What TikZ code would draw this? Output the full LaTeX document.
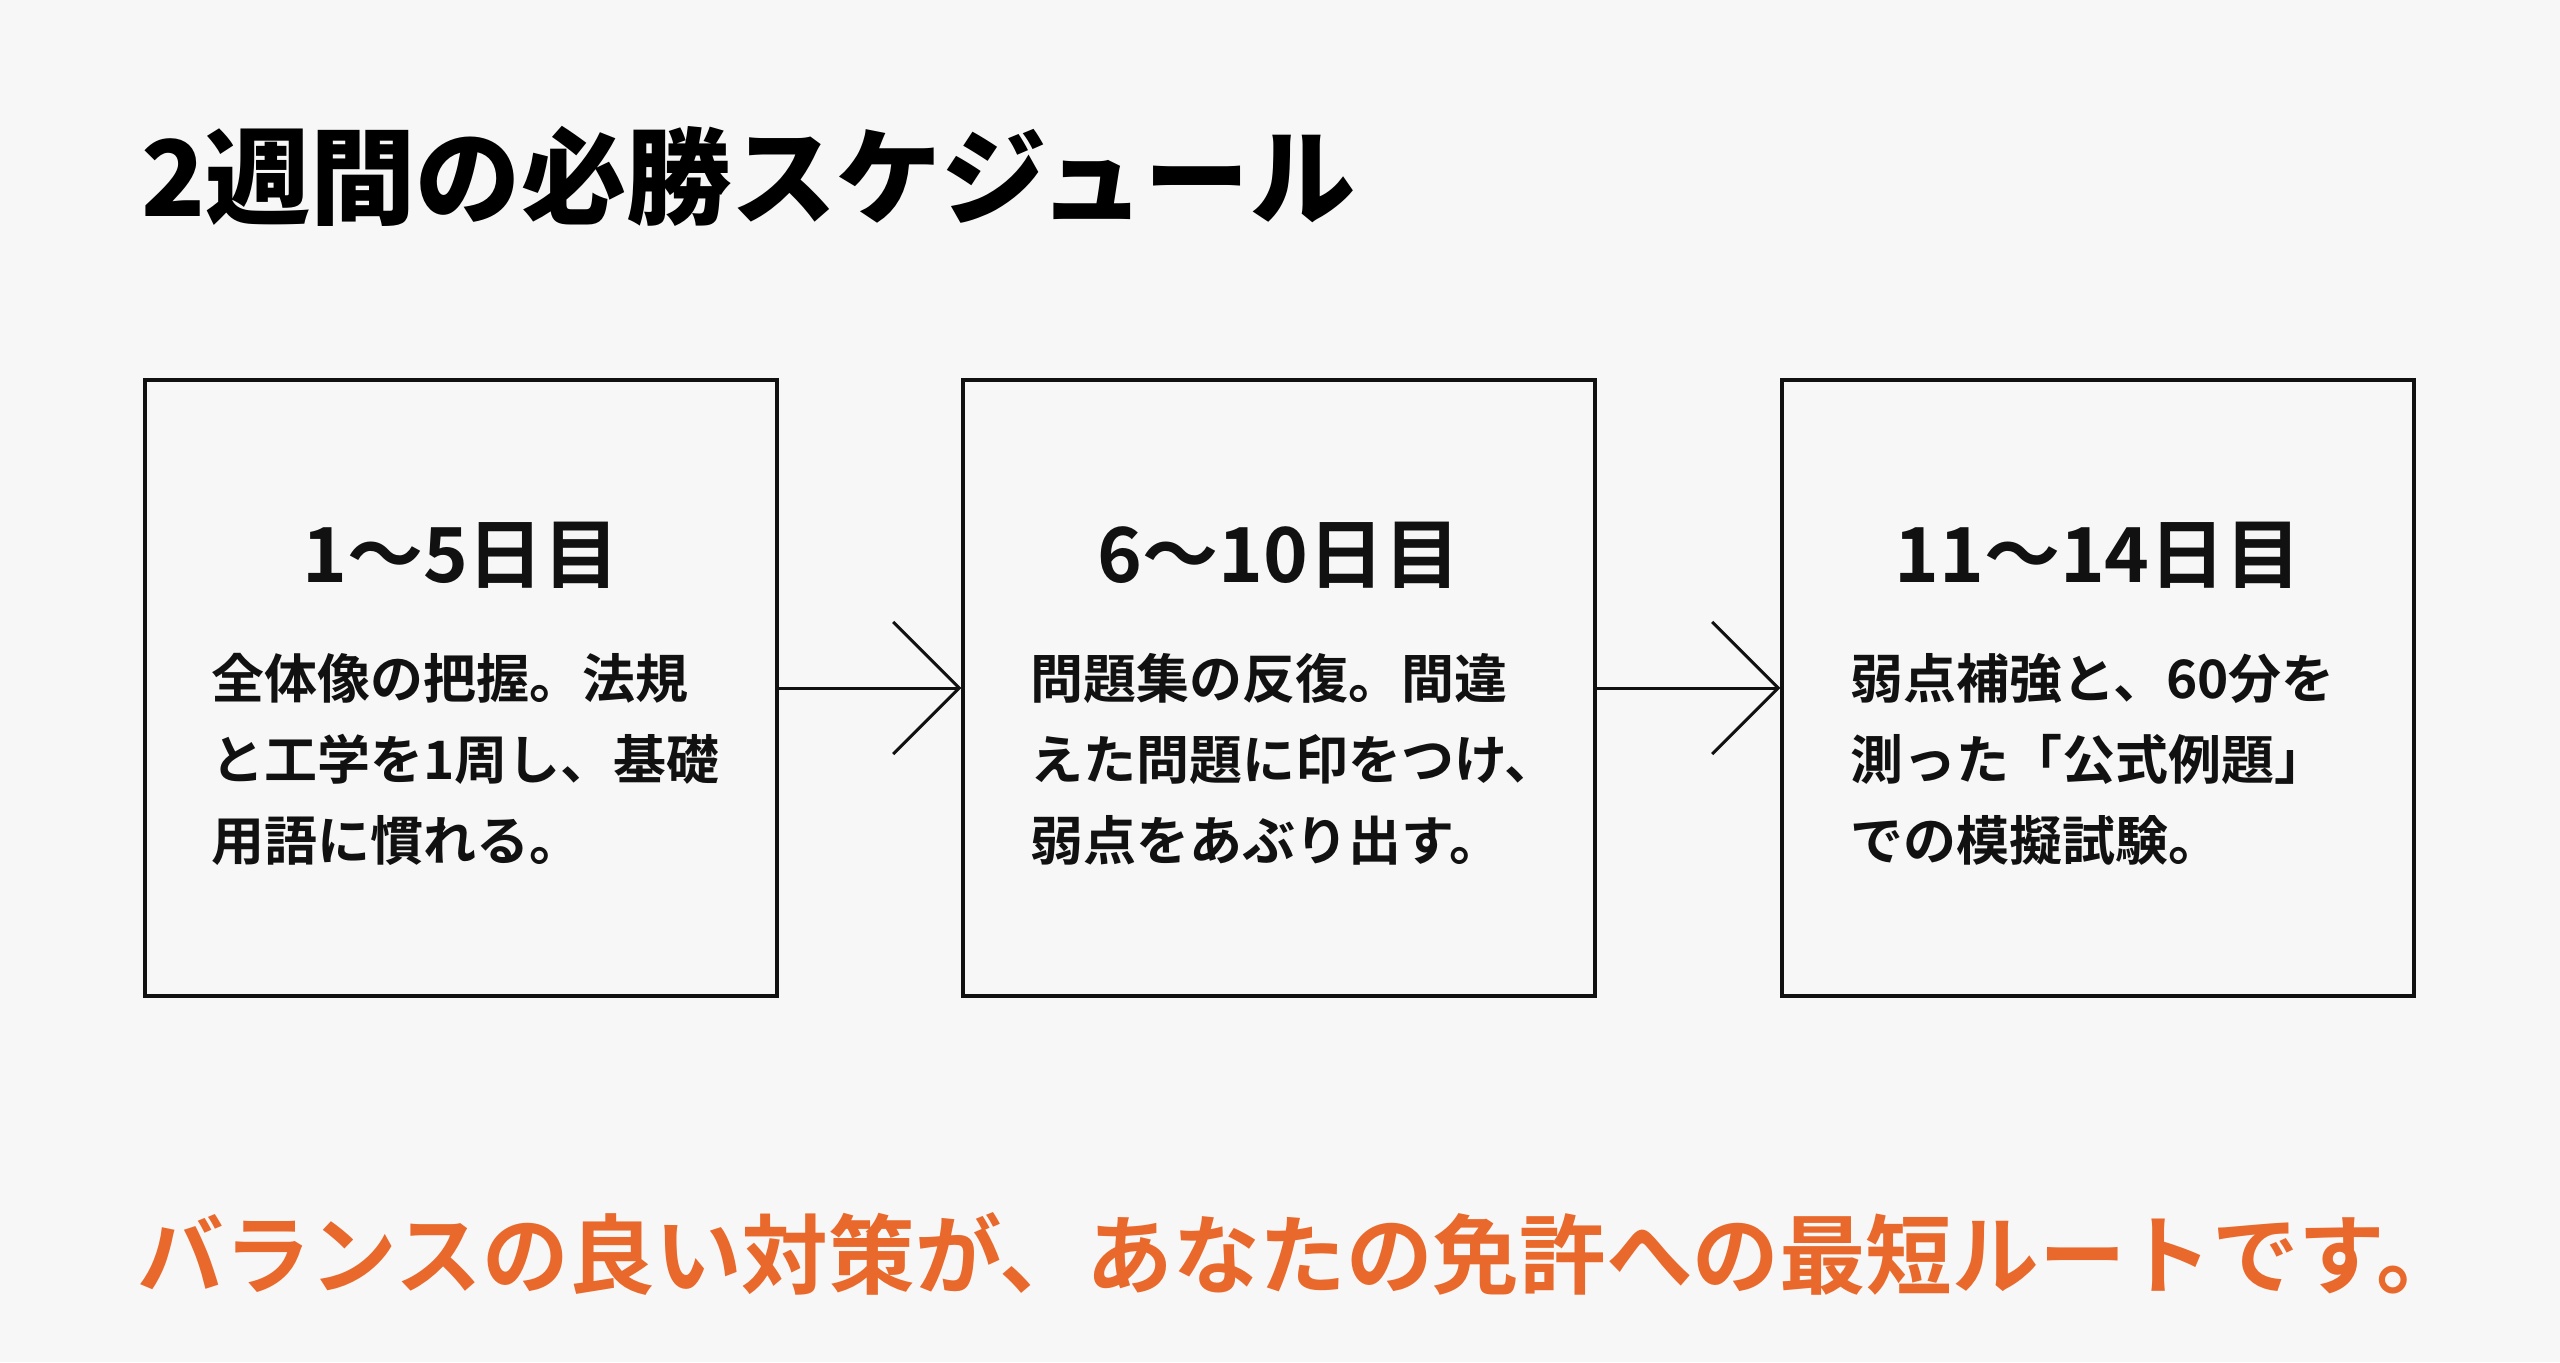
\documentclass[tikz,border=0pt]{standalone}
\usepackage{fontspec}
\setmainfont{Noto Sans CJK JP}[BoldFont={Noto Sans CJK JP Bold}]
\newfontfamily\blackfont{Noto Sans CJK JP Black}
\usetikzlibrary{arrows.meta}
\definecolor{bg}{HTML}{F7F7F7}
\definecolor{ink}{HTML}{111111}
\definecolor{accent}{HTML}{E8692B}
\begin{document}
\begin{tikzpicture}[x=0.5pt,y=-0.5pt,
  stagebox/.style={draw=ink, line width=1.7pt, minimum width=316pt, minimum height=308pt, inner sep=0pt},
  headtxt/.style={font=\bfseries\fontsize{38}{44}\selectfont, text=ink, inner sep=0pt},
  bodytxt/.style={font=\bfseries\fontsize{26.5}{40.5}\selectfont, text=ink, align=left, anchor=west, inner sep=0pt},
  conn/.style={draw=ink, line width=1.5pt, -{Straight Barb[length=33pt,width=66pt,line width=1.5pt]}}]
\fill[bg] (0,0) rectangle (2560,1362);
\useasboundingbox (0,0) rectangle (2560,1362);

\node[anchor=west, inner sep=0pt, text=black, font=\blackfont\fontsize{52.6}{60}\selectfont] (title) at (141,176) {2週間の必勝スケジュール};

\node[stagebox] (b1) at (461,688) {};
\node[stagebox] (b2) at (1279,688) {};
\node[stagebox] (b3) at (2098,688) {};

\node[headtxt] (h1) at (461,555) {1～5日目};
\node[headtxt] (h2) at (1279,555) {6～10日目};
\node[headtxt] (h3) at (2098,555) {11～14日目};

\node[bodytxt] (t1) at (211,759) {全体像の把握。法規\\と工学を1周し、基礎\\用語に慣れる。};
\node[bodytxt] (t2) at (1030,759) {問題集の反復。間違\\えた問題に印をつけ、\\弱点をあぶり出す。};
\node[bodytxt] (t3) at (1850,759) {弱点補強と、60分を\\測った「公式例題」\\での模擬試験。};

\draw[conn] (b1.east) -- (b2.west);
\draw[conn] (b2.east) -- (b3.west);

\node[anchor=west, inner sep=0pt, text=accent, font=\bfseries\fontsize{43.3}{50}\selectfont] (footer) at (137,1254) {バランスの良い対策が、あなたの免許への最短ルートです。};
\end{tikzpicture}
\end{document}
